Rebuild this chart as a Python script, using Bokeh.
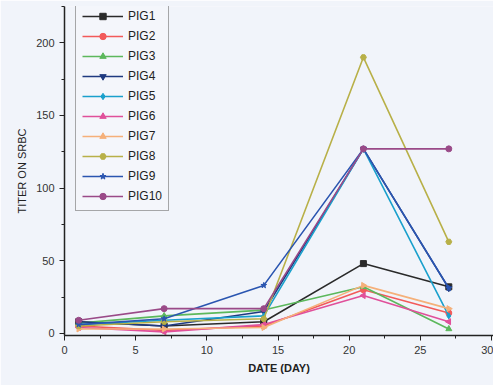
import math
from bokeh.plotting import figure
from bokeh.models import Range1d, Legend, LegendItem, SingleIntervalTicker
from bokeh.embed import file_html
from bokeh.resources import INLINE

days = [1, 7, 14, 21, 27]
pig1 = [8, 5, 8, 48, 32]
pig2 = [5, 2, 5, 30, 14]
pig3 = [7, 12, 16, 32, 3]
pig4 = [8, 5, 15, 127, 31]
pig5 = [6, 9, 12, 127, 12]
pig6 = [4, 1, 6, 26, 8]
pig7 = [3, 3, 4, 33, 17]
pig8 = [5, 8, 10, 190, 63]
pig9 = [6, 10, 33, 127, 31]
pig10 = [9, 17, 17, 127, 127]

names = ["PIG1", "PIG2", "PIG3", "PIG4", "PIG5", "PIG6", "PIG7", "PIG8", "PIG9", "PIG10"]
series = [pig1, pig2, pig3, pig4, pig5, pig6, pig7, pig8, pig9, pig10]
colors = ["#2a2a2a", "#f25a5a", "#5cb85c", "#1f3a80", "#1aa0cc", "#e0509a",
          "#f5b07a", "#b8b048", "#2a55b0", "#9a4a88"]
markers = ["square", "circle", "triangle", "inverted_triangle", "diamond",
           "triangle", "triangle", "hex", "star", "circle"]
angles = [0, 0, 0, 0, 0, math.pi / 2, -math.pi / 2, 0, 0, 0]

p = figure(width=493, height=385, output_backend="svg", toolbar_location=None,
           x_range=Range1d(0, 30.14), y_range=Range1d(-1.5, 225),
           min_border_left=64, min_border_right=0, min_border_top=6,
           min_border_bottom=50)
p.background_fill_color = "#f1f4fa"
p.border_fill_color = "#f1f4fa"
p.outline_line_color = None
p.xgrid.visible = False
p.ygrid.visible = False

items = []
for name, vals, c, m, a in zip(names, series, colors, markers, angles):
    r1 = p.line(days, vals, line_color=c, line_width=1.6)
    r2 = p.scatter(days, vals, marker=m, angle=a, size=6, fill_color=c, line_color=c)
    items.append(LegendItem(label=name, renderers=[r1, r2]))

legend = Legend(items=items, location=(11, 124), padding=6, margin=0, spacing=4,
                glyph_height=16, glyph_width=41, label_standoff=5,
                label_text_font="Liberation Sans", label_text_font_size="12px",
                label_text_color="#222222", label_height=16,
                border_line_color="#555555", border_line_width=1,
                background_fill_color="#f4f6fb", background_fill_alpha=1)
p.add_layout(legend)

for ax in (p.xaxis[0], p.yaxis[0]):
    ax.axis_line_color = "#222222"
    ax.axis_line_width = 1.5
    ax.major_tick_line_color = "#222222"
    ax.minor_tick_line_color = "#222222"
    ax.major_tick_out = 5
    ax.major_tick_in = 0
    ax.minor_tick_out = 3
    ax.minor_tick_in = 0
    ax.major_label_text_font = "Liberation Sans"
    ax.major_label_text_font_size = "11px"
    ax.major_label_text_color = "#333333"
    ax.axis_label_text_font = "Liberation Sans"
    ax.axis_label_text_font_size = "11px"
    ax.axis_label_text_color = "#222222"

p.xaxis[0].axis_label = "DATE (DAY)"
p.xaxis[0].axis_label_text_font_style = "bold"
p.yaxis[0].axis_label = "TITER ON SRBC"
p.yaxis[0].axis_label_text_font_style = "normal"

p.xaxis[0].ticker = SingleIntervalTicker(interval=5, num_minor_ticks=2)
p.yaxis[0].ticker = SingleIntervalTicker(interval=50, num_minor_ticks=2)

open("out.html", "w").write(file_html(p, INLINE))
